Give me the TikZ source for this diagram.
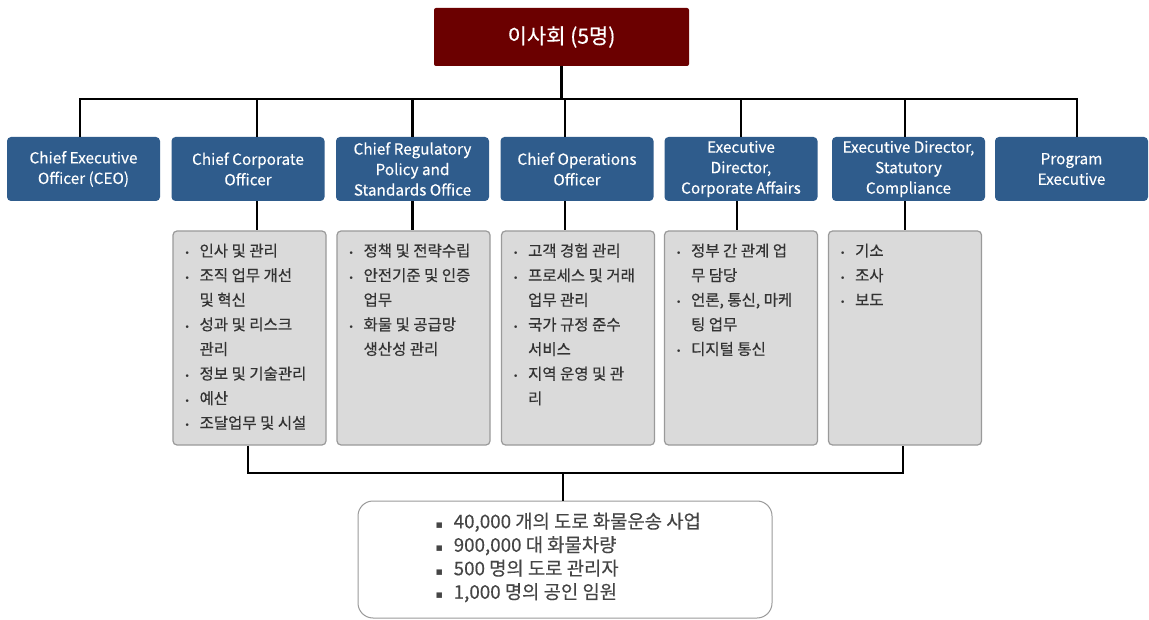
\documentclass[tikz,border=0pt]{standalone}
\usepackage{fontspec}
\setmainfont{Noto Sans CJK KR}
\newfontfamily\medf{Noto Sans CJK KR}[FakeBold=0.5]
\newfontfamily\semf{Noto Sans CJK KR}[FakeBold=0.25]
\newfontfamily\symf{DejaVu Sans}
\definecolor{boardred}{HTML}{6B0000}
\definecolor{offblue}{HTML}{2F5C8C}
\definecolor{panelgrey}{HTML}{DADADA}
\definecolor{panelline}{HTML}{9A9A9A}
\definecolor{txtdark}{HTML}{333333}
\definecolor{txtgrey}{HTML}{454545}
\newcommand\bul{\makebox[15pt][l]{\symf\fontsize{9}{9}\selectfont •}}
\newcommand\ind{\hspace*{15pt}}
\newcommand\sqb{\makebox[18pt][l]{\symf\fontsize{11}{11}\selectfont ▪}}
\tikzset{
  board/.style={draw=none, fill=boardred, rounded corners=2pt, minimum width=255pt, minimum height=58pt, text=white, font=\medf\fontsize{21}{24}\selectfont, inner sep=0pt},
  offbox/.style={fill=offblue, draw=none, rounded corners=4pt, minimum width=153pt, minimum height=64pt, text=white, align=center, font=\semf\fontsize{15.3}{20.5}\selectfont, inner sep=0pt},
  panel/.style={fill=panelgrey, draw=panelline, line width=1.2pt, rounded corners=4pt, minimum width=153pt, minimum height=214pt, inner sep=0pt},
  paneltxt/.style={anchor=north west, align=left, inner sep=0pt, text=txtdark, font=\medf\fontsize{15.5}{24.6}\selectfont},
  sumbox/.style={draw=panelline, line width=1pt, fill=white, rounded corners=15pt, minimum width=414pt, minimum height=117pt, inner sep=0pt},
  sumtxt/.style={anchor=north west, align=left, inner sep=0pt, text=txtgrey, font=\semf\fontsize{18.8}{23.5}\selectfont},
  link/.style={draw=black, line width=2.4pt}
}
\begin{document}
\begin{tikzpicture}[x=1pt,y=-1pt]
\useasboundingbox[fill=white] (0,0) rectangle (1149,620);
% board
\node[board] (top) at (561.5,37) {이사회 (5명)};
% level 2
\node[offbox] (b1) at (83.5,169) {Chief Executive\\Officer (CEO)};
\node[offbox] (b2) at (248,169) {Chief Corporate\\Officer};
\node[offbox] (b3) at (412.5,169) {Chief Regulatory\\Policy and\\Standards Office};
\node[offbox] (b4) at (577,169) {Chief Operations\\Officer};
\node[offbox] (b5) at (741,169) {Executive\\Director,\\Corporate Affairs};
\node[offbox] (b6) at (908.5,169) {Executive Director,\\Statutory\\Compliance};
\node[offbox] (b7) at (1071.5,169) {Program\\Executive};
% panels
\node[panel] (gA) at (249.5,338) {};
\node[panel] (gB) at (413.5,338) {};
\node[panel] (gC) at (578,338) {};
\node[panel] (gD) at (741,338) {};
\node[panel] (gE) at (905,338) {};
\node[paneltxt] (tA) at ([shift={(12,13)}]gA.north west) {\bul 인사 및 관리\\\bul 조직 업무 개선\\\ind 및 혁신\\\bul 성과 및 리스크\\\ind 관리\\\bul 정보 및 기술관리\\\bul 예산\\\bul 조달업무 및 시설};
\node[paneltxt] (tB) at ([shift={(12,13)}]gB.north west) {\bul 정책 및 전략수립\\\bul 안전기준 및 인증\\\ind 업무\\\bul 화물 및 공급망\\\ind 생산성 관리};
\node[paneltxt] (tC) at ([shift={(12,13)}]gC.north west) {\bul 고객 경험 관리\\\bul 프로세스 및 거래\\\ind 업무 관리\\\bul 국가 규정 준수\\\ind 서비스\\\bul 지역 운영 및 관\\\ind 리};
\node[paneltxt] (tD) at ([shift={(12,13)}]gD.north west) {\bul 정부 간 관계 업\\\ind 무 담당\\\bul 언론, 통신, 마케\\\ind 팅 업무\\\bul 디지털 통신};
\node[paneltxt] (tE) at ([shift={(12,13)}]gE.north west) {\bul 기소\\\bul 조사\\\bul 보도};
% summary
\node[sumbox] (sum) at (565,559.5) {};
\node[sumtxt] (sumt) at ([shift={(78,12)}]sum.north west) {\sqb 40,000 개의 도로 화물운송 사업\\\sqb 900,000 대 화물차량\\\sqb 500 명의 도로 관리자\\\sqb 1,000 명의 공인 임원};
% bus coordinates
\coordinate (bus) at (0,99);
\coordinate (bus2) at (0,473);
% connectors top
\draw[link] (top.south) -- (top.south |- bus);
\draw[link] ([xshift=-3.5pt]b1.north) -- ([xshift=-3.5pt]b1.north |- bus) -- ([xshift=5.5pt]b7.north |- bus) -- ([xshift=5.5pt]b7.north);
\draw[link] ([xshift=9pt]b2.north) -- ([xshift=9pt]b2.north |- bus);
\draw[link] (b3.north) -- (b3.north |- bus);
\draw[link] ([xshift=-12pt]b4.north) -- ([xshift=-12pt]b4.north |- bus);
\draw[link] (b5.north) -- (b5.north |- bus);
\draw[link] ([xshift=-3.5pt]b6.north) -- ([xshift=-3.5pt]b6.north |- bus);
% level2 to panels
\draw[link] ([xshift=9pt]b2.south) -- ([xshift=9pt]b2.south |- gA.north);
\draw[link] (b3.south) -- (b3.south |- gB.north);
\draw[link] ([xshift=-12pt]b4.south) -- ([xshift=-12pt]b4.south |- gC.north);
\draw[link] ([xshift=-4pt]b5.south) -- ([xshift=-4pt]b5.south |- gD.north);
\draw[link] ([xshift=-3.5pt]b6.south) -- ([xshift=-3.5pt]b6.south |- gE.north);
% panels to summary
\draw[link] ([xshift=-1.5pt]gA.south) -- ([xshift=-1.5pt]gA.south |- bus2) -- ([xshift=-2pt]gE.south |- bus2) -- ([xshift=-2pt]gE.south);
\draw[link] ([xshift=-2pt]sum.north |- bus2) -- ([xshift=-2pt]sum.north);
\end{tikzpicture}
\end{document}
